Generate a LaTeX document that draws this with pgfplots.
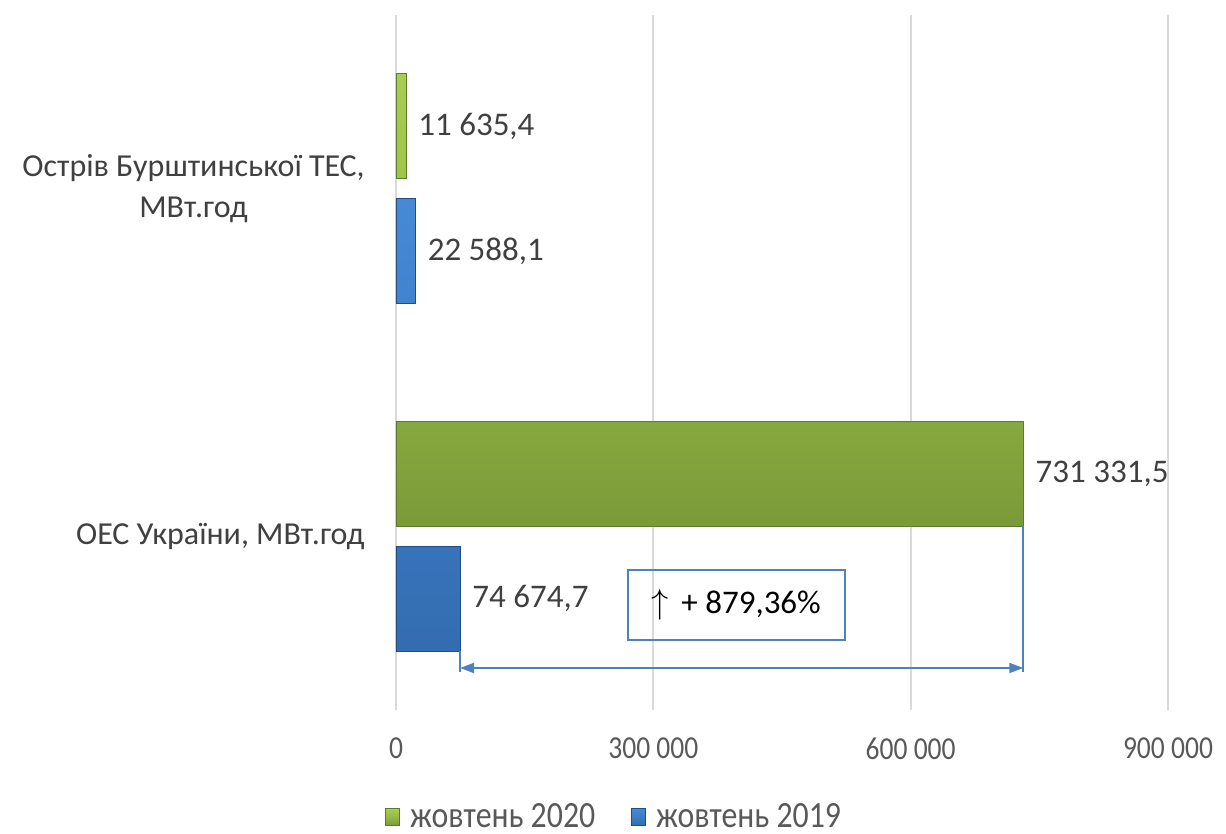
\documentclass[border=0pt]{standalone}
\usepackage{fontspec}
\setmainfont{Carlito}
\newfontfamily\condfont[FakeStretch=0.86]{Carlito}
\usepackage{pgfplots}
\pgfplotsset{compat=1.18}
\usetikzlibrary{arrows.meta}
\definecolor{txt}{HTML}{404040}
\definecolor{ticktxt}{HTML}{595959}
\definecolor{gridc}{HTML}{D9D9D9}
\definecolor{gtop}{HTML}{A6CE52}
\definecolor{gmid}{HTML}{94BA45}
\definecolor{gbot}{HTML}{7A9A38}
\definecolor{gedge}{HTML}{5E7A2E}
\definecolor{btop}{HTML}{4689D5}
\definecolor{bmid}{HTML}{3D7CC6}
\definecolor{bbot}{HTML}{336CB0}
\definecolor{bedge}{HTML}{244C80}
\definecolor{annot}{HTML}{4F81BD}
\begin{document}
\begin{tikzpicture}
\useasboundingbox (-198pt,-62pt) rectangle (415pt,355pt);
\begin{axis}[
  at={(0,0)}, anchor=south west,
  scale only axis, width=386pt, height=347.5pt,
  xbar, xmin=0, xmax=900000, ymin=0, ymax=2,
  ytick={0.5,1.5},
  yticklabels={{ОЕС України, МВт.год},{Острів Бурштинської ТЕС,\\МВт.год}},
  yticklabel style={align=center, font=\fontsize{16}{20.5}\selectfont, text=txt, inner sep=0pt, xshift=-15.5pt},
  xtick={0,300000,600000,900000},
  xticklabels={0,300 000,600 000,900 000},
  xticklabel style={font=\condfont\fontsize{16}{19}\selectfont, text=ticktxt, inner sep=0pt, yshift=-13.5pt},
  scaled x ticks=false,
  major tick length=0pt,
  xmajorgrids, grid style={gridc, line width=1pt},
  axis line style={draw=none},
  bar width=52.5pt,
  nodes near coords, point meta=explicit symbolic,
  nodes near coords style={anchor=west, font=\fontsize{16.5}{19}\selectfont, text=txt, inner sep=0pt, xshift=6pt},
  legend columns=2,
  legend style={at={(rel axis cs:0.284,-0.154)}, anchor=center, draw=none, fill=none,
     font=\condfont\fontsize{18.5}{20}\selectfont, text=ticktxt,
     /tikz/every even column/.style={column sep=16pt}},
  legend image code/.code={\fill[#1] (0pt,-4.25pt) rectangle (7pt,4.25pt);},
  clip=false,
]
\addplot[bar shift=31.25pt, draw=gedge, top color=gtop, bottom color=gbot, middle color=gmid]
  coordinates {(731331.5,0.5) [731 331,5] (11635.4,1.5) [11 635,4]};
\addlegendentry{\hspace{3pt}жовтень 2020}
\addplot[bar shift=-31.25pt, draw=bedge, top color=btop, bottom color=bbot, middle color=bmid]
  coordinates {(74674.7,0.5) [74 674,7] (22588.1,1.5) [22 588,1]};
\addlegendentry{\hspace{3pt}жовтень 2019}
\draw[annot, line width=1pt] (axis cs:270466,0.2014) rectangle (axis cs:523446,0.4029);
\node[font=\fontsize{16.5}{19}\selectfont, text=black] at (axis cs:396366,0.302) {$\uparrow$\, + 879,36\%};
\draw[annot, line width=1pt, {Triangle[length=7pt,width=5pt]}-{Triangle[length=7pt,width=5pt]}] (axis cs:74674.7,0.1209) -- (axis cs:731331.5,0.1209);
\draw[annot, line width=1pt] (axis cs:74674.7,0.109) -- (axis cs:74674.7,0.169);
\draw[annot, line width=1pt] (axis cs:731331.5,0.109) -- (axis cs:731331.5,0.53);
\end{axis}
\end{tikzpicture}
\end{document}
